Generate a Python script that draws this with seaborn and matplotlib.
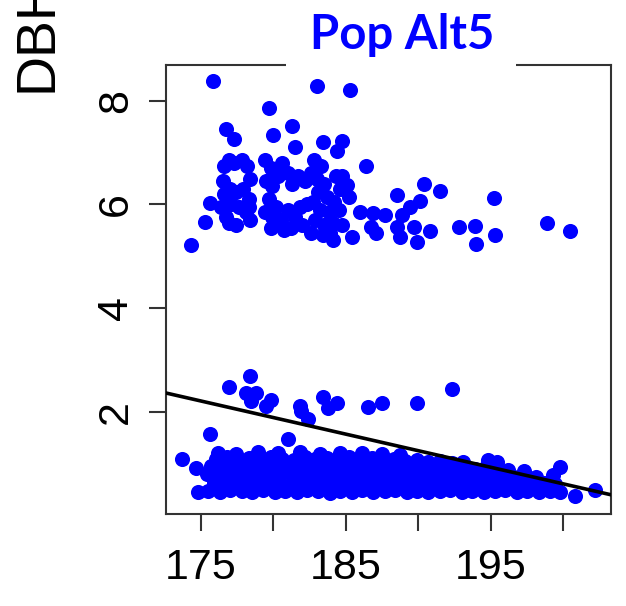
import matplotlib
matplotlib.use("Agg")
import matplotlib.pyplot as plt
from matplotlib.patches import Rectangle
import seaborn as sns
import pandas as pd

# ---------------- data ----------------
upper_sparse = [(175.8, 8.39), (183.0, 8.29), (185.3, 8.21), (179.7, 7.86), (176.7, 7.45),
                (177.3, 7.27), (179.95, 7.34), (181.3, 7.52), (181.5, 7.10), (183.4, 7.21),
                (184.7, 7.22), (184.4, 7.04), (186.4, 6.75), (175.6, 6.02), (175.3, 5.66),
                (174.3, 5.22)]

upper_dense = [(176.6, 6.75), (176.5, 6.45), (176.6, 6.20), (176.4, 5.95), (176.7, 5.75),
               (176.9, 6.85), (177.3, 6.80), (177.8, 6.85), (178.2, 6.75), (178.4, 6.50),
               (177.0, 6.30), (177.4, 6.25), (177.9, 6.30), (178.3, 6.10), (177.1, 6.00),
               (177.6, 5.95), (178.1, 5.85), (176.9, 5.65), (177.4, 5.60), (178.4, 5.70),
               (178.3, 5.95), (179.4, 6.85), (179.8, 6.70), (179.5, 6.45), (179.9, 6.35),
               (180.3, 6.55), (180.6, 6.80), (181.0, 6.60), (181.3, 6.40), (179.7, 6.10),
               (179.4, 5.85), (179.9, 5.75), (180.2, 5.95), (180.5, 5.70), (181.0, 5.90),
               (181.5, 5.75), (181.2, 5.55), (180.7, 5.50), (179.8, 5.55), (182.0, 5.60),
               (181.8, 5.95), (182.3, 6.00), (182.2, 6.45), (181.7, 6.55), (182.8, 6.85),
               (183.3, 6.75), (182.6, 6.60), (183.0, 6.50), (183.5, 6.40), (183.1, 6.25),
               (183.7, 6.15), (184.2, 6.05), (182.7, 6.05), (183.2, 5.90), (183.8, 5.85),
               (184.5, 5.90), (182.9, 5.70), (183.5, 5.60), (184.1, 5.65), (184.7, 5.60),
               (182.6, 5.45), (183.9, 5.45), (184.6, 6.30), (184.3, 6.55)]

upper_right = [(184.7, 6.54), (185.1, 6.38), (185.2, 6.15), (186.0, 5.86), (186.9, 5.83),
               (187.7, 5.80), (186.7, 5.57), (187.1, 5.45), (185.4, 5.38), (184.1, 5.32),
               (183.4, 5.41), (188.5, 6.19), (190.4, 6.40), (191.5, 6.26), (188.9, 5.80),
               (190.1, 6.06), (189.4, 5.96), (188.5, 5.57), (189.7, 5.57), (188.7, 5.38),
               (189.9, 5.27), (190.8, 5.48), (192.8, 5.56), (193.9, 5.59), (194.0, 5.24),
               (195.3, 5.41), (195.2, 6.12), (198.9, 5.65), (200.5, 5.49)]

middle = [(178.4, 2.69), (176.9, 2.48), (178.1, 2.37), (178.8, 2.36), (178.45, 2.20),
          (179.8, 2.23), (179.5, 2.11), (181.8, 2.11), (181.9, 2.01), (182.4, 1.86),
          (183.4, 2.28), (183.75, 2.07), (184.4, 2.18), (186.5, 2.09), (187.5, 2.17),
          (189.9, 2.18), (192.3, 2.44), (175.6, 1.58), (181.0, 1.47)]

lower_band = [
    (175.5, 0.48), (176.3, 0.46), (177.0, 0.50), (177.8, 0.47), (178.5, 0.45), (179.3, 0.49),
    (180.1, 0.46), (180.8, 0.48), (181.6, 0.45), (182.3, 0.50), (183.1, 0.47), (183.9, 0.44),
    (184.6, 0.48), (185.4, 0.46), (186.1, 0.49), (186.9, 0.45), (187.7, 0.47), (188.4, 0.50),
    (189.2, 0.46), (189.9, 0.48), (190.7, 0.45), (191.5, 0.47), (192.2, 0.49), (193.0, 0.46),
    (193.7, 0.48), (194.5, 0.45), (195.3, 0.47), (196.0, 0.49), (196.8, 0.46), (197.5, 0.48),
    (198.3, 0.45), (199.1, 0.47), (199.8, 0.46),
    (175.9, 0.62), (176.7, 0.65), (177.4, 0.61), (178.2, 0.64), (178.9, 0.62), (179.7, 0.66),
    (180.4, 0.63), (181.2, 0.61), (181.9, 0.65), (182.7, 0.62), (183.5, 0.64), (184.2, 0.61),
    (185.0, 0.66), (185.8, 0.63), (186.5, 0.60), (187.3, 0.64), (188.0, 0.62), (188.8, 0.65),
    (189.6, 0.61), (190.3, 0.63), (191.1, 0.66), (191.8, 0.62), (192.6, 0.64), (193.4, 0.61),
    (194.1, 0.65), (194.9, 0.62), (195.6, 0.60), (196.4, 0.64), (197.2, 0.62), (197.9, 0.59),
    (198.7, 0.63), (199.4, 0.60),
    (175.4, 0.80), (176.1, 0.78), (176.9, 0.82), (177.6, 0.79), (178.4, 0.77), (179.1, 0.81),
    (179.9, 0.79), (180.6, 0.83), (181.4, 0.78), (182.1, 0.80), (182.9, 0.77), (183.7, 0.82),
    (184.4, 0.79), (185.2, 0.81), (185.9, 0.77), (186.7, 0.80), (187.4, 0.83), (188.2, 0.78),
    (189.0, 0.80), (189.7, 0.76), (190.5, 0.81), (191.2, 0.79), (192.0, 0.77), (192.8, 0.82),
    (193.5, 0.78), (194.3, 0.80), (195.0, 0.76), (195.8, 0.79), (196.6, 0.75), (197.3, 0.78),
    (198.1, 0.74),
    (175.7, 0.96), (176.5, 0.94), (177.2, 0.98), (178.0, 0.95), (178.7, 0.93), (179.5, 0.97),
    (180.2, 0.95), (181.0, 0.99), (181.8, 0.94), (182.5, 0.96), (183.3, 0.93), (184.0, 0.97),
    (184.8, 0.95), (185.5, 0.98), (186.3, 0.93), (187.1, 0.96), (187.8, 0.94), (188.6, 0.97),
    (189.4, 0.92), (190.1, 0.95), (190.9, 0.93), (191.6, 0.96), (192.4, 0.91), (193.2, 0.94),
    (193.9, 0.90), (194.7, 0.93), (195.5, 0.89), (196.2, 0.87),
    (176.0, 1.10), (176.8, 1.12), (177.6, 1.08), (178.3, 1.11), (179.1, 1.09), (179.8, 1.13),
    (180.6, 1.10), (181.4, 1.07), (182.2, 1.12), (182.9, 1.09), (183.7, 1.11), (184.5, 1.08),
    (185.2, 1.12), (186.0, 1.09), (186.8, 1.11), (187.6, 1.07), (188.3, 1.10), (189.1, 1.06),
    (189.9, 1.08), (190.7, 1.04), (191.5, 1.06), (192.3, 1.02), (193.1, 1.04), (194.8, 1.07),
    (195.4, 1.03),
    (176.2, 1.21), (177.4, 1.19), (178.9, 1.22), (180.3, 1.20), (181.8, 1.23), (183.2, 1.19),
    (184.6, 1.21), (186.1, 1.20), (187.5, 1.18), (188.7, 1.17)]

lower_edges = [(173.7, 1.09), (174.65, 0.91), (174.8, 0.46), (197.3, 0.85), (199.8, 0.94),
               (199.3, 0.78), (200.8, 0.38), (202.2, 0.49)]

# fitted regression line
fit_anchor_x = 185.0
fit_anchor_y = 1.57
fit_slope = -0.0639

x_ticks = [175, 180, 185, 190, 195, 200]
x_tick_labels = ["175", "", "185", "", "195", ""]
y_ticks = [2, 4, 6, 8]
y_tick_labels = ["2", "4", "6", "8"]
title_text = "Pop Alt5"
y_label_text = "DBH"

# ---------------- build table ----------------
pts = upper_sparse + upper_dense + upper_right + middle + lower_band + lower_edges
df = pd.DataFrame(pts, columns=["x", "DBH"])

# ---------------- figure ----------------
sns.set_theme(style="white")
plt.rcParams["font.family"] = ["Liberation Sans", "DejaVu Sans"]

W, H = 626, 606
fig = plt.figure(figsize=(W / 100, H / 100), dpi=100)
ax = fig.add_axes([166 / W, 92 / H, 445 / W, 449 / H])

sns.scatterplot(data=df, x="x", y="DBH", color="#0000FF", s=118, linewidth=0,
                ax=ax, zorder=4, legend=False)
ax.axline((fit_anchor_x, fit_anchor_y), slope=fit_slope, color="black", lw=2.6, zorder=5)

ax.set_xlim(172.58, 203.3)
ax.set_ylim(0.03, 8.69)
ax.set_xlabel("")
ax.set_ylabel("")

ax.set_xticks(x_ticks)
ax.set_xticklabels(x_tick_labels)
ax.set_yticks(y_ticks)
ax.set_yticklabels(y_tick_labels)

for s in ax.spines.values():
    s.set_visible(True)
    s.set_color("#333333")
    s.set_linewidth(1.5)

ax.tick_params(axis="both", which="both", direction="out", length=12.5, width=1.5,
               color="#333333", labelsize=31, labelcolor="black")
ax.tick_params(axis="x", pad=12, bottom=True)
ax.tick_params(axis="y", pad=9, left=True, labelrotation=90)
for lab in ax.get_yticklabels():
    lab.set_va("center")

# white patch that interrupts the top frame behind the title
ax.add_patch(Rectangle((286 / W, 1 - 72 / H), 230 / W, 16 / H, transform=fig.transFigure,
                       facecolor="white", edgecolor="none", zorder=3, clip_on=False))

fig.text(402 / W, 1 - 49 / H, title_text, ha="center", va="baseline", color="#0000FF",
         fontsize=34, fontweight="bold", family=["Lato", "DejaVu Sans"])

fig.text(52 / W, 1 - 92 / H, y_label_text, rotation=90, rotation_mode="anchor",
         ha="left", va="baseline", fontsize=40, color="black",
         family=["Liberation Sans", "DejaVu Sans"])

fig.savefig("out.png", dpi=100)
